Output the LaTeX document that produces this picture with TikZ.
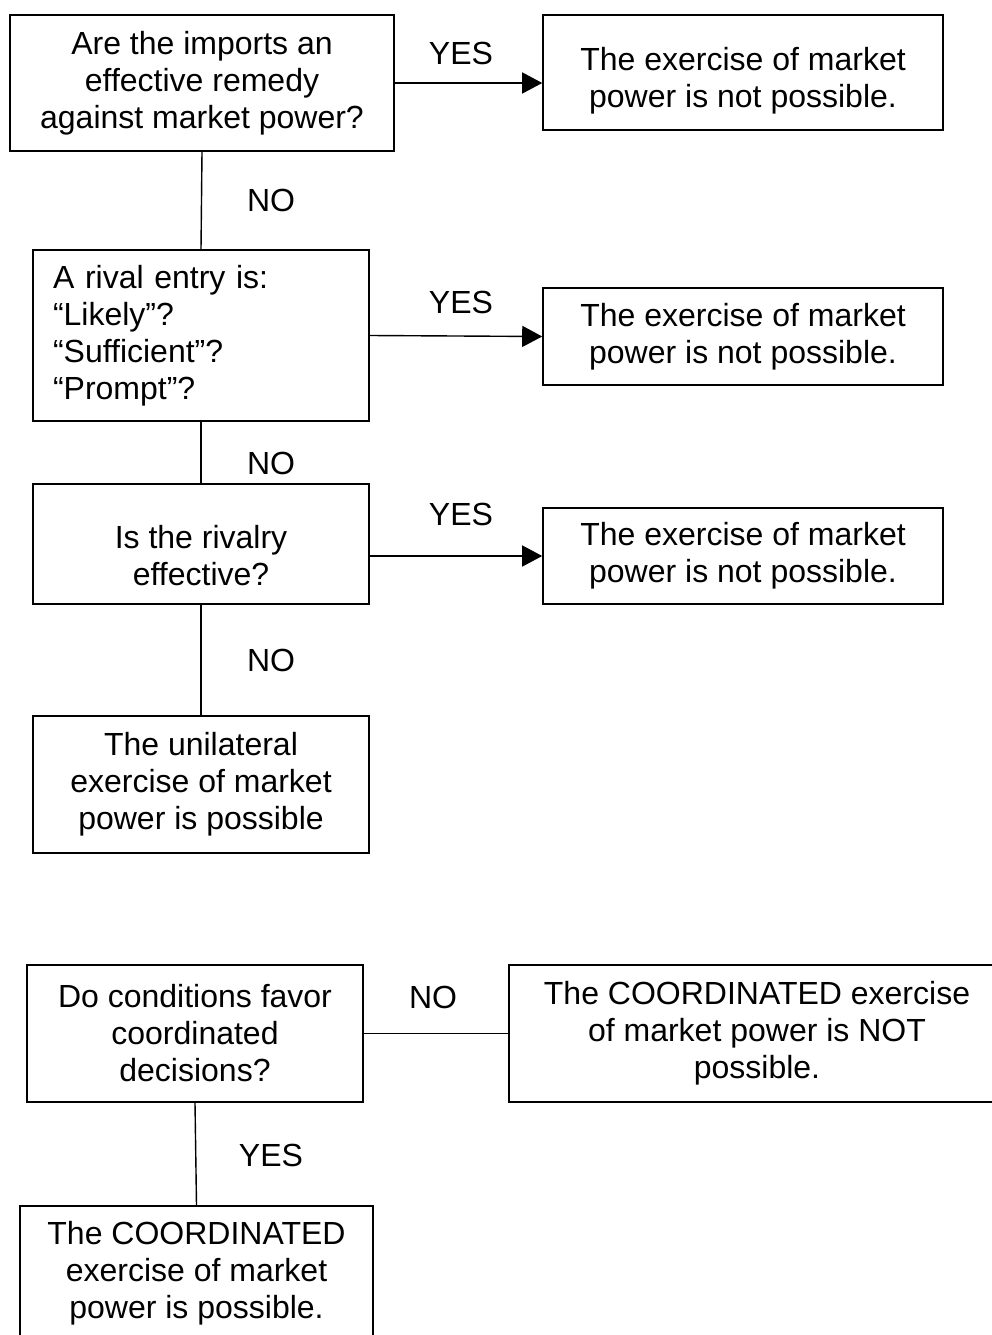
\documentclass[tikz,border=0pt]{standalone}
\usepackage{fontspec}
\setmainfont{Liberation Sans}
\usetikzlibrary{arrows.meta}

\tikzset{
  box/.style={draw, line width=1.6pt, align=center, inner sep=0pt,
    font=\fontsize{32pt}{37pt}\selectfont},
  lbl/.style={font=\fontsize{32pt}{37pt}\selectfont, inner sep=0pt},
  link/.style={line width=1.4pt},
  yes/.style={line width=1.4pt, -{Triangle[length=20pt,width=21pt]}}
}
% pushes the first line of a box down
\newcommand{\lowerby}[1]{\rule{0pt}{#1}}

\begin{document}
\begin{tikzpicture}[x=1pt,y=-1pt]
                \clip (0,0) rectangle (992,1335);

                % unilateral part
                \node[box, minimum width=384, minimum height=136] (q1) at (202,83)
                    {Are the imports an\\effective remedy\\against market power?};
                \node[box, minimum width=400, minimum height=115] (r1) at (743,72.5)
                    {\lowerby{40pt}The exercise of market\\power is not possible.};
                \node[box, minimum width=336, minimum height=171, text width=296,
                    align=left, inner xsep=20pt] (q2) at (201,335.5)
                    {A rival entry is:\\``Likely''?\\``Sufficient''?\\``Prompt''?};
                \node[box, minimum width=400, minimum height=97] (r2) at (743,336.5)
                    {The exercise of market\\power is not possible.};
                \node[box, minimum width=336, minimum height=120] (q3) at (201,544)
                    {\lowerby{46pt}Is the rivalry\\effective?};
                \node[box, minimum width=400, minimum height=96] (r3) at (743,556)
                    {The exercise of market\\power is not possible.};
                \node[box, minimum width=336, minimum height=137] (q4) at (201,784.5)
                    {The unilateral\\exercise of market\\power is possible};

                \node[lbl] (yes1) at (461,53) {YES};
                \node[lbl] (no1) at (271,200) {NO};
                \node[lbl] (yes2) at (461,302) {YES};
                \node[lbl] (no2) at (271,463) {NO};
                \node[lbl] (yes3) at (461,514) {YES};
                \node[lbl] (no3) at (271,660) {NO};

                \draw[yes] (q1.east) -- (q1.east -| r1.west);
                \draw[yes] (q2.east) -- (r2.west);
                \draw[yes] (q3.east |- r3.west) -- (r3.west);
                \draw[link] (q1.south) -- (q2.north);
                \draw[link] (q2.south) -- (q3.north);
                \draw[link] (q3.south) -- (q4.north);

                % coordinated part
                \node[box, minimum width=336, minimum height=137] (q5) at (195,1033.5)
                    {Do conditions favor\\coordinated\\decisions?};
                \node[box, minimum width=496, minimum height=137] (r5) at (757,1033.5)
                    {The COORDINATED exercise\\of market power is NOT\\possible.};
                \node[box, minimum width=353, minimum height=134] (q6) at (196.5,1273)
                    {The COORDINATED\\exercise of market\\power is possible.};

                \node[lbl] (no5) at (433,997) {NO};
                \node[lbl] (yes5) at (271,1155) {YES};

                \draw[link] (q5.east) -- (r5.west);
                \draw[link] (q5.south) -- (q6.north);
            \end{tikzpicture}
\end{document}
